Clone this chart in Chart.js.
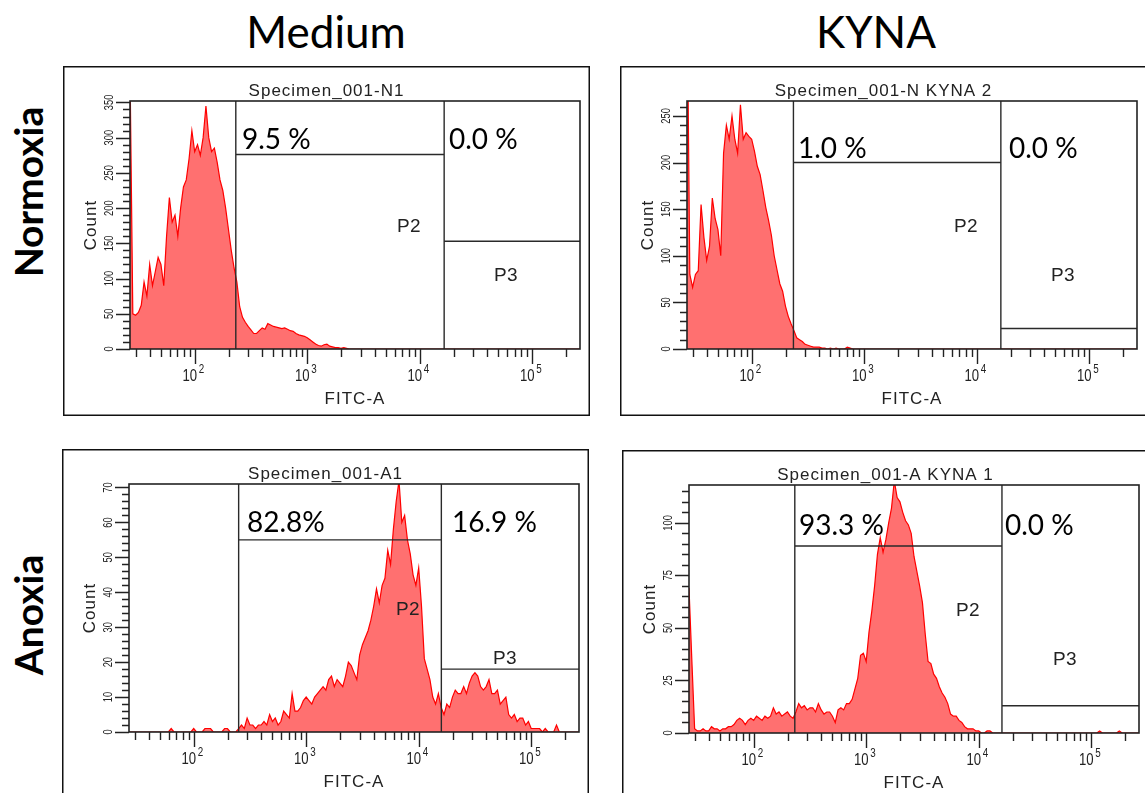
<!DOCTYPE html>
<html>
<head>
<meta charset="utf-8">
<script src="https://cdn.jsdelivr.net/npm/chart.js@4.4.1/dist/chart.umd.min.js"></script>
<style>
  body { margin:0; background:#fff; width:1145px; height:793px; overflow:hidden; position:relative; }
  .head { position:absolute; font-family:Lato, "Open Sans", sans-serif; font-size:44px; line-height:44px; color:#000; white-space:nowrap; transform:translateX(-50%); }
  .row { position:absolute; font-family:Lato, "Open Sans", sans-serif; font-weight:bold; font-size:39px; line-height:39px; color:#000; white-space:nowrap; transform:translate(-50%,-50%) rotate(-90deg); }
  canvas { position:absolute; }
</style>
</head>
<body>
<div class="head" style="left:326px;top:9px">Medium</div>
<div class="head" style="left:876px;top:9px">KYNA</div>
<div class="row" style="left:28px;top:192px">Normoxia</div>
<div class="row" style="left:28px;top:615px">Anoxia</div>

<canvas id="c1" width="527" height="350" style="left:63px;top:66px"></canvas>
<canvas id="c2" width="527" height="350" style="left:620px;top:66px"></canvas>
<canvas id="c3" width="527" height="350" style="left:62px;top:449px"></canvas>
<canvas id="c4" width="527" height="350" style="left:622px;top:450px"></canvas>

<script>
// histogram channels: log10(FITC-A) of first bin and bin width
var binStart = 1.425
var binStep = 0.025
var xMin = Math.pow(10, 1.425)
var xMax = Math.pow(10, 5.425)

// Normoxia / Medium
var n1Counts = [
  400, 50, 48, 52, 62, 95, 75, 120, 90, 110,
  130, 120, 90, 160, 215, 180, 190, 160, 200, 230,
  240, 270, 310, 280, 290, 275, 300, 345, 300, 280,
  285, 265, 240, 225, 200, 170, 140, 115, 95, 60,
  45, 38, 32, 27, 22, 22, 26, 30, 28, 36,
  34, 32, 31, 30, 29, 30, 28, 26, 25, 22,
  20, 19, 18, 16, 13, 10, 7, 5, 4, 6,
  7, 4, 3, 2, 2, 1, 2, 1, 0, 0,
  0, 0, 0, 0, 0, 0, 0, 0, 0, 0,
  0, 0, 0, 0, 0, 0, 0, 0, 0, 0,
  0, 0, 0, 0, 0, 0, 0, 0, 0, 0,
  0, 0, 0, 0, 0, 0, 0, 0, 0, 0,
  0, 0, 0, 0, 0, 0, 0, 0, 0, 0,
  0, 0, 0, 0, 0, 0, 0, 0, 0, 0,
  0, 0, 0, 0, 0, 0, 0, 0, 0, 0,
  0, 0, 0, 0, 0, 0, 0, 0, 0, 0,
  0
]
// Normoxia / KYNA
var n2Counts = [
  400, 80, 66, 80, 84, 155, 120, 95, 110, 162,
  140, 128, 100, 210, 240, 225, 250, 225, 210, 262,
  225, 232, 228, 225, 212, 196, 187, 170, 152, 138,
  122, 100, 85, 70, 62, 46, 35, 27, 20, 12,
  10, 8, 5, 4, 3, 2, 2, 2, 1, 1,
  0, 1, 0, 1, 0, 0, 0, 2, 1, 0,
  0, 0, 0, 0, 0, 0, 0, 0, 0, 0,
  0, 0, 0, 0, 0, 0, 0, 0, 0, 0,
  0, 0, 0, 0, 0, 0, 0, 0, 0, 0,
  0, 0, 0, 0, 0, 0, 0, 0, 0, 0,
  0, 0, 0, 0, 0, 0, 0, 0, 0, 0,
  0, 0, 0, 0, 0, 0, 0, 0, 0, 0,
  0, 0, 0, 0, 0, 0, 0, 0, 0, 0,
  0, 0, 0, 0, 0, 0, 0, 0, 0, 0,
  0, 0, 0, 0, 0, 0, 0, 0, 0, 0,
  0, 0, 0, 0, 0, 0, 0, 0, 0, 0,
  0
]
// Anoxia / Medium
var a1Counts = [
  0, 0, 0, 0, 0, 0, 0, 0, 0, 0,
  0, 0, 0, 0, 0, 1, 0, 0, 0, 0,
  0, 0, 0, 1, 0, 0, 0, 1, 1, 1,
  0, 0, 0, 0, 1, 1, 0, 0, 0, 1,
  2, 1, 4, 2, 2, 1, 2, 2, 3, 2,
  5, 3, 4, 2, 3, 6, 5, 4, 11, 6,
  6, 7, 9, 10, 9, 8, 10, 11, 12, 13,
  12, 15, 16, 13, 15, 14, 13, 16, 20, 19,
  17, 15, 22, 25, 27, 29, 32, 36, 41, 37,
  42, 44, 52, 48, 58, 66, 72, 60, 62, 55,
  51, 45, 42, 47, 36, 21, 18, 15, 10, 8,
  11, 7, 5, 8, 7, 10, 12, 11, 11, 13,
  11, 14, 16, 17, 16, 13, 12, 13, 15, 11,
  11, 12, 8, 9, 10, 5, 4, 5, 3, 4,
  4, 2, 3, 1, 1, 1, 1, 0, 1, 0,
  0, 0, 2, 0, 0, 0, 0, 0, 0, 0,
  0
]
// Anoxia / KYNA
var a2Counts = [
  69, 35, 2, 1, 1, 2, 1, 1, 3, 2,
  2, 1, 2, 2, 3, 3, 4, 6, 7, 6,
  4, 6, 7, 6, 8, 7, 6, 8, 7, 8,
  12, 9, 10, 8, 9, 10, 8, 7, 10, 14,
  12, 13, 11, 12, 12, 10, 14, 11, 9, 10,
  10, 8, 5, 11, 12, 11, 14, 14, 16, 21,
  26, 37, 38, 34, 48, 58, 70, 85, 93, 86,
  92, 100, 107, 120, 112, 110, 105, 101, 99, 95,
  84, 77, 70, 62, 47, 34, 33, 28, 26, 22,
  19, 17, 14, 9, 8, 8, 6, 5, 3, 2,
  2, 2, 1, 1, 0, 0, 1, 1, 0, 0,
  0, 0, 0, 0, 0, 0, 0, 0, 0, 0,
  0, 0, 0, 0, 0, 0, 0, 0, 0, 0,
  0, 0, 0, 0, 0, 0, 0, 0, 0, 0,
  0, 0, 0, 0, 0, 0, 1, 0, 0, 0,
  0, 0, 0, 1, 0, 0, 0, 0, 0, 0,
  0
]

var titles = ["Specimen_001-N1", "Specimen_001-N KYNA 2", "Specimen_001-A1", "Specimen_001-A KYNA 1"]
var p2Percent = ["9.5 %", "1.0 %", "82.8%", "93.3 %"]
var p3Percent = ["0.0 %", "0.0 %", "16.9 %", "0.0 %"]
var gateLow = [232, 235, 251, 232]
var gateHigh = [16500, 16400, 15900, 16100]
var p2Top = [276, 200, 55, 89]
var p3Top = [153, 22, 18, 13]
var yMax = [352, 266, 71, 118]
var yLabelStep = [50, 50, 10, 25]
var yMinorStep = [10, 10, 2, 5]

// where the big percentage texts sit in each frame (left, baseline)
var pctPos = [
  [[179, 83], [386, 83]],
  [[178, 92], [389, 92]],
  [[185, 83], [390, 83]],
  [[177, 85], [383, 85]]
]

var seriesList = [n1Counts, n2Counts, a1Counts, a2Counts]

function facsPlugin(k) {
  return {
    id: 'facs' + k,
    afterDatasetsDraw: function(chart) {
      var ctx = chart.ctx
      var a = chart.chartArea
      var xs = chart.scales.x
      var ys = chart.scales.y
      var W = chart.width, H = chart.height
      ctx.save()

      // gates
      ctx.strokeStyle = "#2a2a2a"
      ctx.lineWidth = 1.4
      var g1 = xs.getPixelForValue(gateLow[k])
      var g2 = xs.getPixelForValue(gateHigh[k])
      var h2 = ys.getPixelForValue(p2Top[k])
      var h3 = ys.getPixelForValue(p3Top[k])
      ctx.beginPath()
      ctx.moveTo(g1, a.top); ctx.lineTo(g1, a.bottom)
      ctx.moveTo(g2, a.top); ctx.lineTo(g2, a.bottom)
      ctx.moveTo(g1, h2); ctx.lineTo(g2, h2)
      ctx.moveTo(g2, h3); ctx.lineTo(a.right, h3)
      ctx.stroke()

      // plot box
      ctx.strokeStyle = "#222"
      ctx.lineWidth = 1.6
      ctx.strokeRect(a.left, a.top, a.right - a.left, a.bottom - a.top)

      // x ticks
      ctx.lineWidth = 1.4
      ctx.beginPath()
      for (var d = 10; d <= 100000; d *= 10) {
        for (var m = 1; m <= 9; m++) {
          var v = m * d
          if (v < xMin || v > xMax) continue
          var px = Math.round(xs.getPixelForValue(v)) + 0.5
          ctx.moveTo(px, a.bottom)
          ctx.lineTo(px, a.bottom + (m == 1 ? 15 : 8))
        }
      }
      ctx.stroke()

      // x labels 10^n
      ctx.fillStyle = "#222"
      ctx.textBaseline = "alphabetic"
      for (var e = 2; e <= 5; e++) {
        var tx = xs.getPixelForValue(Math.pow(10, e))
        ctx.save()
        ctx.translate(tx, a.bottom + 32)
        ctx.scale(0.82, 1)
        ctx.font = "16px 'Liberation Sans', Arial, sans-serif"
        ctx.textAlign = "right"
        ctx.fillText("10", 3, 0)
        ctx.font = "12px 'Liberation Sans', Arial, sans-serif"
        ctx.textAlign = "left"
        ctx.fillText(String(e), 5, -8)
        ctx.restore()
      }

      // y ticks
      ctx.beginPath()
      for (var t = 0; t <= yMax[k]; t += yMinorStep[k]) {
        var py = Math.round(ys.getPixelForValue(t)) + 0.5
        var major = t % yLabelStep[k] == 0
        ctx.moveTo(a.left, py)
        ctx.lineTo(a.left - (major ? 14 : 7), py)
      }
      ctx.stroke()

      // y labels (rotated, narrow)
      ctx.textAlign = "center"
      ctx.textBaseline = "middle"
      ctx.font = "13px 'Liberation Sans', Arial, sans-serif"
      for (var t = 0; t <= yMax[k]; t += yLabelStep[k]) {
        ctx.save()
        ctx.translate(a.left - 21, ys.getPixelForValue(t))
        ctx.rotate(-Math.PI / 2)
        ctx.scale(0.72, 1)
        ctx.fillText(String(t), 0, 0)
        ctx.restore()
      }

      // axis titles and plot title
      ctx.font = "17px 'Liberation Sans', Arial, sans-serif"
      ctx.letterSpacing = "1px"
      ctx.textBaseline = "alphabetic"
      ctx.fillText("FITC-A", (a.left + a.right) / 2, a.bottom + 55)
      ctx.fillText(titles[k], W / 2, 30)
      ctx.save()
      ctx.translate(33, (a.top + a.bottom) / 2)
      ctx.rotate(-Math.PI / 2)
      ctx.fillText("Count", 0, 0)
      ctx.restore()

      // gate names
      ctx.font = "19px 'Liberation Sans', Arial, sans-serif"
      ctx.letterSpacing = "0.5px"
      ctx.textBaseline = "middle"
      ctx.fillText("P2", 346, 161)
      ctx.fillText("P3", 443, 210)

      // percentages
      ctx.letterSpacing = "0px"
      ctx.fillStyle = "#000"
      ctx.textAlign = "left"
      ctx.textBaseline = "alphabetic"
      ctx.font = "28px Lato, 'Open Sans', sans-serif"
      ctx.fillText(p2Percent[k], pctPos[k][0][0], pctPos[k][0][1])
      ctx.fillText(p3Percent[k], pctPos[k][1][0], pctPos[k][1][1])

      // frame
      ctx.strokeStyle = "#111"
      ctx.lineWidth = 1.5
      ctx.strokeRect(0.75, 0.75, W - 1.5, H - 1.5)
      ctx.restore()
    }
  }
}

function drawPanel(k) {
  var counts = seriesList[k]
  var pts = counts.map(function(c, i) {
    return { x: Math.pow(10, binStart + i * binStep), y: c }
  })
  new Chart(document.getElementById("c" + (k + 1)), {
    type: 'line',
    data: {
      datasets: [{
        data: pts,
        borderColor: "rgb(255,0,0)",
        backgroundColor: "rgb(255,112,112)",
        borderWidth: 1.2,
        pointRadius: 0,
        tension: 0,
        fill: 'origin'
      }]
    },
    options: {
      responsive: false,
      animation: false,
      devicePixelRatio: 1,
      layout: { padding: { left: 67, top: 35, right: 10, bottom: 67 } },
      plugins: { legend: { display: false }, tooltip: { enabled: false } },
      scales: {
        x: { type: 'logarithmic', min: xMin, max: xMax, display: false },
        y: { type: 'linear', min: 0, max: yMax[k], display: false }
      }
    },
    plugins: [facsPlugin(k)]
  })
}

for (var k = 0; k < 4; k++) drawPanel(k)
</script>
</body>
</html>
